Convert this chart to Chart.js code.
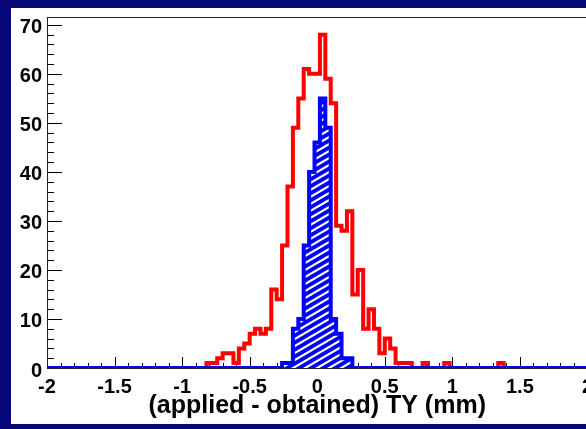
<!DOCTYPE html>
<html><head><meta charset="utf-8">
<script src="https://cdn.jsdelivr.net/npm/chart.js@4"></script>
<style>
html,body{margin:0;padding:0;background:#07077a;width:586px;height:429px;overflow:hidden;}
#panel{position:absolute;left:11px;top:8px;width:575px;height:416px;background:#fff;}
#wrap{position:absolute;left:0;top:0;width:586px;height:429px;overflow:hidden;}
canvas{position:absolute;left:0;top:0;}
</style></head><body>
<div id="panel"></div>
<div id="wrap"><canvas id="c" width="600" height="429"></canvas></div>
<script>
// ---- data ----
const binWidth = 0.04;
const redFirstCenter = -0.80;
const redCounts = [1,1,2,3,3,1,4,5,7,8,7,8,16,14,25,37,49,55,61,60,60,68,
                   59,54,29,28,32,15,20,8,12,8,3,6,4,1,1,1,0,0,1,0,0,0,1,0,0,0,0,0,0,0,0,0,1];
const blueFirstCenter = -0.24;
const blueCounts = [1,1,8,10,25,40,46,55,49,10,7,2,2];
const xTickValues = [-2,-1.5,-1,-0.5,0,0.5,1,1.5,2];
const xTickLabels = ['-2','-1.5','-1','-0.5','0','0.5','1','1.5','2'];
const yTickValues = [0,10,20,30,40,50,60,70];
const yTickLabels = ['0','10','20','30','40','50','60','70'];
const xMin = -2, xMax = 2, yMin = 0, yMax = 71.6;
const xTitle = '(applied - obtained) TY (mm)';

function histPoints(firstCenter, counts, fullRange){
  const pts = fullRange ? [{x:xMin, y:0}] : [{x: firstCenter - binWidth/2, y: 0}];
  counts.forEach((c,i)=>pts.push({x: firstCenter - binWidth/2 + i*binWidth, y: c}));
  pts.push({x: firstCenter - binWidth/2 + counts.length*binWidth, y: 0});
  if (fullRange) pts.push({x:xMax, y:0});
  return pts;
}

function hatch(){
  const w = 12, h = 7;
  const c = document.createElement('canvas'); c.width = w; c.height = h;
  const g = c.getContext('2d');
  g.fillStyle = '#0000ff'; g.fillRect(0,0,w,h);
  g.strokeStyle = '#ffffff'; g.lineWidth = 2.2;
  for (const k of [0,1,2]) {
    g.beginPath(); g.moveTo(-w, k*h + h); g.lineTo(2*w, k*h - 2*h); g.stroke();
  }
  return g.createPattern(c, 'repeat');
}

const ticksPlugin = {
  id: 'rootTicks',
  beforeDatasetsDraw(chart){
    const {ctx, chartArea:a, scales:{x, y}} = chart;
    ctx.save();
    ctx.strokeStyle = '#000'; ctx.lineWidth = 1;
    ctx.beginPath();
    for (let v = 0; v <= yMax; v += 2) {
      const p = Math.round(y.getPixelForValue(v)) + 0.5;
      const len = (v % 10 === 0) ? 15 : 7;
      ctx.moveTo(a.left, p); ctx.lineTo(a.left + len, p);
    }
    for (let i = -20; i <= 20; i++) {
      const p = Math.round(x.getPixelForValue(i/10)) + 0.5;
      const len = (i % 5 === 0) ? 11 : 5;
      ctx.moveTo(p, a.bottom); ctx.lineTo(p, a.bottom - len);
    }
    ctx.stroke();
    ctx.strokeStyle = '#222';
    ctx.strokeRect(a.left + 0.5, a.top + 0.5, a.right - a.left, a.bottom - a.top);
    ctx.restore();
  }
};

Chart.defaults.font.family = '"Liberation Sans", Arial, Helvetica, sans-serif';
Chart.defaults.color = '#000';

new Chart(document.getElementById('c'), {
  type: 'line',
  data: {
    datasets: [
      { data: histPoints(blueFirstCenter, blueCounts, true), borderColor: '#0000ff', borderWidth: 4,
        backgroundColor: hatch(), fill: 'origin', stepped: true, pointRadius: 0, order: 0 },
      { data: histPoints(redFirstCenter, redCounts, false), borderColor: '#ff0000', borderWidth: 4,
        fill: false, stepped: true, pointRadius: 0, order: 1 }
    ]
  },
  options: {
    responsive: false, animation: false, devicePixelRatio: 1,
    layout: { padding: { left: 0, top: 16, right: 12, bottom: 0 } },
    plugins: { legend: { display: false }, tooltip: { enabled: false } },
    scales: {
      x: {
        type: 'linear', min: xMin, max: xMax,
        grid: { display: false, drawTicks: false }, border: { display: false },
        afterFit: s => { s.height = 61; },
        afterBuildTicks: s => { s.ticks = xTickValues.map(v => ({value: v})); },
        ticks: { autoSkip: false, maxRotation: 0, padding: 7, font: { size: 20, weight: 'bold' },
                 callback: (v) => xTickLabels[xTickValues.indexOf(v)] },
        title: { display: true, text: xTitle, font: { size: 25, weight: 'bold' }, padding: { top: 0, bottom: 8 } }
      },
      y: {
        type: 'linear', min: yMin, max: yMax,
        grid: { display: false, drawTicks: false }, border: { display: false },
        afterFit: s => { s.width = 47; },
        afterBuildTicks: s => { s.ticks = yTickValues.map(v => ({value: v})); },
        ticks: { padding: 5, labelOffset: 3, font: { size: 20, weight: 'bold' },
                 callback: (v) => yTickLabels[yTickValues.indexOf(v)] }
      }
    }
  },
  plugins: [ticksPlugin]
});
</script>
</body></html>
